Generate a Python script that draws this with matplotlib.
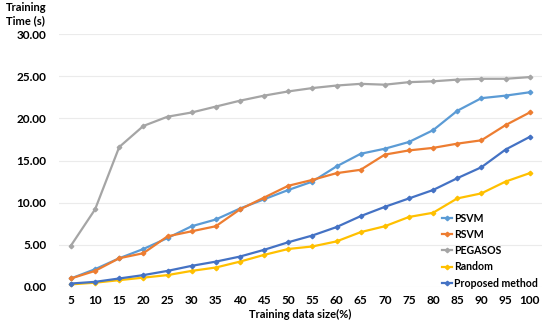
import matplotlib.pyplot as plt
import numpy as np

plt.rcParams['font.family'] = ['Lato', 'DejaVu Sans']

# training data size (%)
sizes = [5, 10, 15, 20, 25, 30, 35, 40, 45, 50, 55, 60, 65, 70, 75, 80, 85, 90, 95, 100]

# training time (s) per method
psvm = [1.0, 2.1, 3.4, 4.5, 5.8, 7.2, 8.0, 9.3, 10.4, 11.5, 12.5, 14.3, 15.8, 16.4, 17.2, 18.6, 20.9, 22.4, 22.7, 23.1]
rsvm = [1.0, 1.9, 3.4, 4.0, 6.0, 6.6, 7.2, 9.2, 10.6, 12.0, 12.7, 13.5, 13.9, 15.7, 16.2, 16.5, 17.0, 17.4, 19.2, 20.7]
pegasos = [4.9, 9.2, 16.6, 19.1, 20.2, 20.7, 21.4, 22.1, 22.7, 23.2, 23.6, 23.9, 24.1, 24.0, 24.3, 24.4, 24.6, 24.7, 24.7, 24.9]
random_ = [0.3, 0.5, 0.8, 1.1, 1.4, 1.9, 2.3, 3.0, 3.8, 4.5, 4.8, 5.4, 6.5, 7.2, 8.3, 8.8, 10.5, 11.1, 12.5, 13.5]
proposed = [0.4, 0.6, 1.0, 1.4, 1.9, 2.5, 3.0, 3.6, 4.4, 5.3, 6.1, 7.1, 8.4, 9.5, 10.5, 11.5, 12.9, 14.2, 16.3, 17.8]

series = [
    ('PSVM', psvm, '#5B9BD5'),
    ('RSVM', rsvm, '#ED7D31'),
    ('PEGASOS', pegasos, '#A5A5A5'),
    ('Random', random_, '#FFC000'),
    ('Proposed method', proposed, '#4472C4'),
]

fig = plt.figure(figsize=(5.5, 3.22), dpi=100)
ax = fig.add_axes([0.107, 0.109, 0.878, 0.785])

x = np.arange(len(sizes))
for name, vals, color in series:
    ax.plot(x, vals, color=color, lw=1.6, marker='D', markersize=2.3, label=name)

ax.set_xlim(-0.5, len(sizes) - 0.5)
ax.set_ylim(0, 30)
ax.set_xticks(x)
ax.set_xticklabels([str(s) for s in sizes])
ax.set_yticks(np.arange(0, 31, 5))
ax.set_yticklabels(['%.2f' % v for v in np.arange(0, 31, 5)])
ax.yaxis.grid(True, color='#EBEBEB', lw=0.8)
ax.set_axisbelow(True)
for s in ax.spines.values():
    s.set_visible(False)
ax.tick_params(length=0, labelsize=8.5)
ax.tick_params(axis='y', pad=9)
ax.tick_params(axis='x', pad=6)
for lab in ax.get_xticklabels() + ax.get_yticklabels():
    lab.set_fontweight('bold')

ax.set_xlabel('Training data size(%)', fontsize=8, fontweight='bold', labelpad=2)
fig.text(0.01, 0.995, 'Training\nTime (s)', fontsize=8, fontweight='bold', va='top', ha='left', linespacing=1.25)

leg = fig.legend(loc='upper left', bbox_to_anchor=(0.804, 0.34), frameon=False,
                 prop={'weight': 'bold', 'size': 7.6}, handlelength=0.9, handletextpad=0.2,
                 labelspacing=0.5, borderaxespad=0, borderpad=0)

plt.savefig('out.png')
